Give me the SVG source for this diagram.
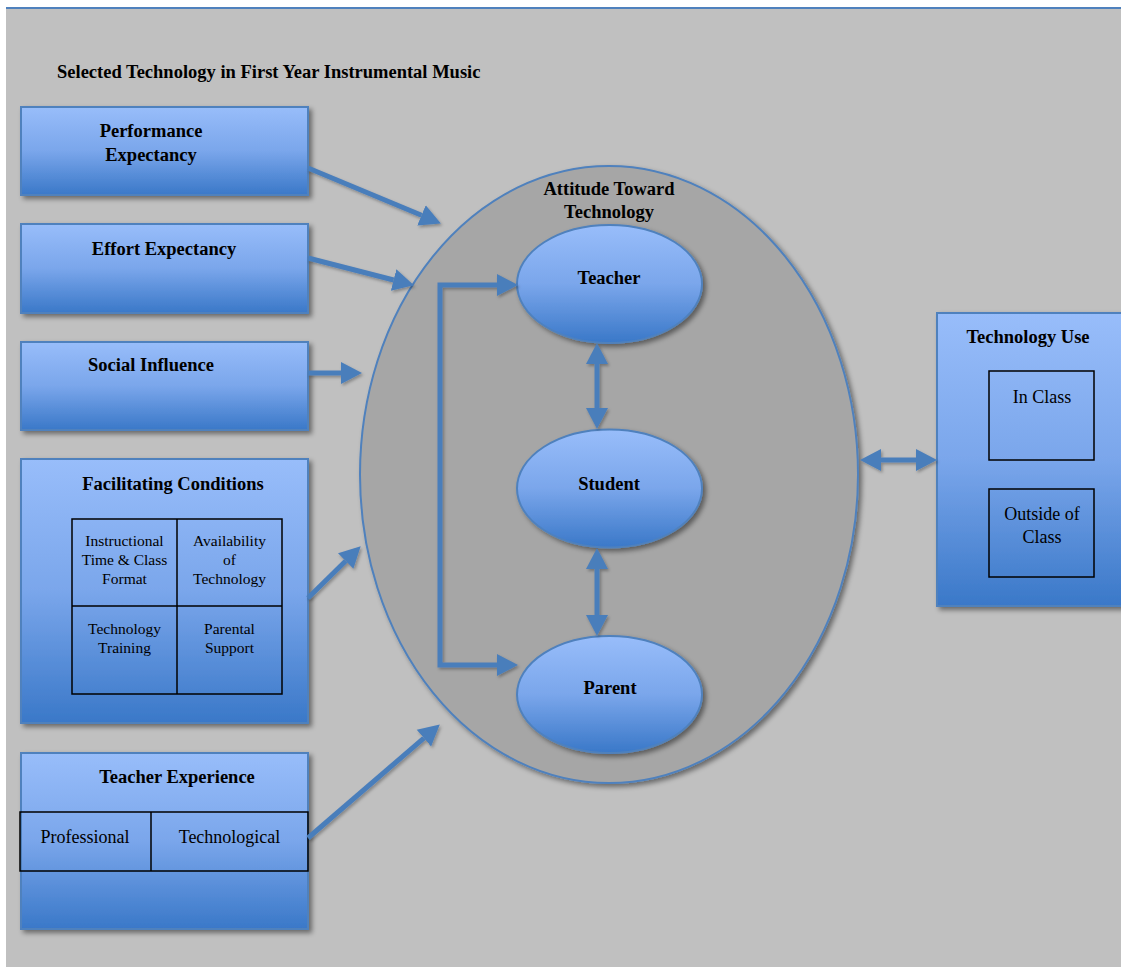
<svg xmlns="http://www.w3.org/2000/svg" width="1121" height="967" viewBox="0 0 1121 967">
  <defs>
    <linearGradient id="blueFill" x1="0" y1="0" x2="0" y2="1">
      <stop offset="0" stop-color="#98bdfa"/>
      <stop offset="0.5" stop-color="#7aa6eb"/>
      <stop offset="1" stop-color="#3a78c8"/>
    </linearGradient>
    <filter id="shadow" x="-10%" y="-10%" width="125%" height="125%">
      <feDropShadow dx="3" dy="3" stdDeviation="2.5" flood-color="#000" flood-opacity="0.45"/>
    </filter>
    <filter id="lineShadow" x="-10%" y="-10%" width="125%" height="125%">
      <feDropShadow dx="1.5" dy="2" stdDeviation="1.5" flood-color="#000" flood-opacity="0.3"/>
    </filter>
    <marker id="head" markerUnits="userSpaceOnUse" markerWidth="22" markerHeight="26" viewBox="0 -13 22 26" refX="0" refY="0" orient="auto-start-reverse">
      <path d="M0,-11 L21,0 L0,11 z" fill="#4a7ebb"/>
    </marker>
    <style>
      .box { fill: url(#blueFill); stroke: #4f81bd; stroke-width: 2; filter: url(#shadow); }
      .oval { fill: url(#blueFill); stroke: #4f81bd; stroke-width: 2; filter: url(#shadow); }
      .cell { fill: none; stroke: #000; stroke-width: 1.5; }
      .hd { font-family: "Liberation Serif", serif; font-weight: bold; font-size: 18.5px; fill: #000; text-anchor: middle; }
      .tx { font-family: "Liberation Serif", serif; font-size: 18px; fill: #000; text-anchor: middle; }
      .sm { font-family: "Liberation Serif", serif; font-size: 15.5px; fill: #000; text-anchor: middle; }
      .conn { fill: none; stroke: #4a7ebb; stroke-width: 5; stroke-linejoin: miter; }
    </style>
  </defs>

  <!-- page background -->
  <rect x="0" y="0" width="1121" height="967" fill="#ffffff"/>
  <rect x="6" y="8" width="1115" height="959" fill="#c0c0c0"/>
  <line x1="6" y1="8" x2="1121" y2="8" stroke="#4f81bd" stroke-width="2"/>

  <text x="57" y="78" class="hd" style="text-anchor:start">Selected Technology in First Year Instrumental Music</text>

  <!-- central attitude ellipse -->
  <g id="attitude">
    <ellipse cx="609" cy="474.5" rx="249" ry="308.5" fill="#a6a6a6" stroke="#4f81bd" stroke-width="2" filter="url(#shadow)"/>
    <text x="609" y="195" class="hd">Attitude Toward</text>
    <text x="609" y="218" class="hd">Technology</text>
  </g>

  <g id="performance-expectancy">
    <rect x="21" y="107" width="287" height="88" class="box"/>
    <text x="151" y="137" class="hd">Performance</text>
    <text x="151" y="161" class="hd">Expectancy</text>
  </g>

  <g id="effort-expectancy">
    <rect x="21" y="224" width="287" height="89" class="box"/>
    <text x="164" y="255" class="hd">Effort Expectancy</text>
  </g>

  <g id="social-influence">
    <rect x="21" y="342" width="287" height="88" class="box"/>
    <text x="151" y="371" class="hd">Social Influence</text>
  </g>

  <g id="facilitating-conditions">
    <rect x="21" y="459" width="287" height="264" class="box"/>
    <text x="173" y="490" class="hd">Facilitating Conditions</text>
    <rect x="72" y="519" width="210" height="175" class="cell"/>
    <line x1="177" y1="519" x2="177" y2="694" class="cell"/>
    <line x1="72" y1="606" x2="282" y2="606" class="cell"/>
    <text x="124.5" y="546" class="sm">Instructional</text>
    <text x="124.5" y="565" class="sm">Time &amp; Class</text>
    <text x="124.5" y="584" class="sm">Format</text>
    <text x="229.5" y="546" class="sm">Availability</text>
    <text x="229.5" y="565" class="sm">of</text>
    <text x="229.5" y="584" class="sm">Technology</text>
    <text x="124.5" y="634" class="sm">Technology</text>
    <text x="124.5" y="653" class="sm">Training</text>
    <text x="229.5" y="634" class="sm">Parental</text>
    <text x="229.5" y="653" class="sm">Support</text>
  </g>

  <g id="teacher-experience">
    <rect x="21" y="753" width="287" height="176" class="box"/>
    <text x="177" y="783" class="hd">Teacher Experience</text>
    <rect x="20" y="812" width="288" height="59" class="cell"/>
    <line x1="151" y1="812" x2="151" y2="871" class="cell"/>
    <text x="85" y="843" class="tx">Professional</text>
    <text x="229.5" y="843" class="tx">Technological</text>
  </g>

  <g id="technology-use">
    <rect x="937" y="313" width="190" height="293" class="box"/>
    <text x="1028" y="343" class="hd">Technology Use</text>
    <rect x="989" y="371" width="105" height="89" class="cell"/>
    <text x="1042" y="403" class="tx">In Class</text>
    <rect x="989" y="489" width="105" height="88" class="cell"/>
    <text x="1042" y="520" class="tx">Outside of</text>
    <text x="1042" y="543" class="tx">Class</text>
  </g>

  <g id="teacher">
    <ellipse cx="609.5" cy="284" rx="92.5" ry="59" class="oval"/>
    <text x="609" y="284" class="hd">Teacher</text>
  </g>
  <g id="student">
    <ellipse cx="609.5" cy="488.5" rx="92.5" ry="59" class="oval"/>
    <text x="609" y="490" class="hd">Student</text>
  </g>
  <g id="parent">
    <ellipse cx="609.5" cy="694.5" rx="92.5" ry="58.5" class="oval"/>
    <text x="610" y="694" class="hd">Parent</text>
  </g>

  <!-- connectors -->
  <g id="connectors" filter="url(#lineShadow)">
    <line x1="308" y1="168" x2="421.5" y2="215.3" class="conn" marker-end="url(#head)"/>
    <line x1="308" y1="258" x2="393.6" y2="280" class="conn" marker-end="url(#head)"/>
    <line x1="308" y1="373" x2="341" y2="373" class="conn" marker-end="url(#head)"/>
    <line x1="308" y1="598" x2="345.7" y2="561" class="conn" marker-end="url(#head)"/>
    <line x1="308" y1="838" x2="423.9" y2="738.1" class="conn" marker-end="url(#head)"/>
    <path d="M497,285 H440 V665 H497" class="conn" marker-start="url(#head)" marker-end="url(#head)"/>
    <path d="M597,364 V408" class="conn" marker-start="url(#head)" marker-end="url(#head)"/>
    <path d="M597,569 V615" class="conn" marker-start="url(#head)" marker-end="url(#head)"/>
    <path d="M881,460 H916" class="conn" marker-start="url(#head)" marker-end="url(#head)"/>
  </g>
</svg>
